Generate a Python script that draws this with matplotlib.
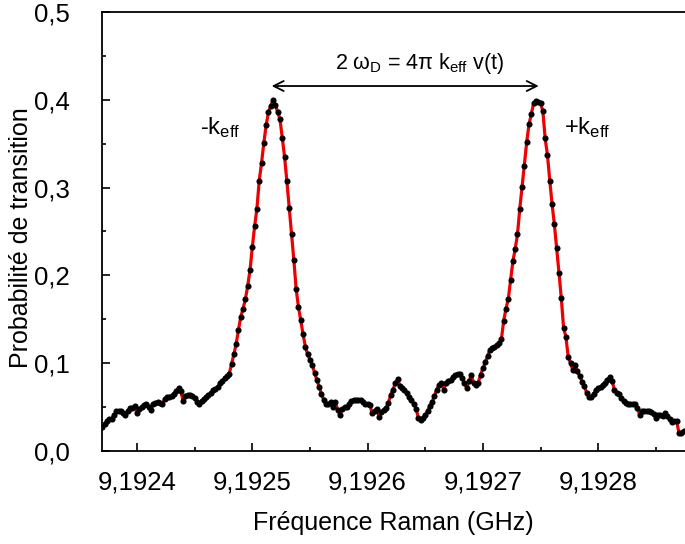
import matplotlib
matplotlib.use("Agg")
import matplotlib.pyplot as plt
from matplotlib.ticker import MultipleLocator, FuncFormatter
import numpy as np

# scan grid (GHz)
freq_start = 9.19237
freq_step = 2e-6

# measured transition probability, one value per scan step
prob = [
    0.027, 0.031, 0.034, 0.036, 0.037, 0.041, 0.045, 0.046, 0.046, 0.043,
    0.041, 0.046, 0.049, 0.049, 0.051, 0.043, 0.048, 0.050, 0.052, 0.054,
    0.050, 0.047, 0.053, 0.055, 0.056, 0.055, 0.054, 0.059, 0.061, 0.062,
    0.063, 0.065, 0.068, 0.072, 0.068, 0.057, 0.063, 0.064, 0.064, 0.063,
    0.060, 0.056, 0.053, 0.057, 0.059, 0.061, 0.064, 0.066, 0.069, 0.071,
    0.073, 0.077, 0.080, 0.083, 0.085, 0.088, 0.099, 0.110, 0.122, 0.138,
    0.153, 0.162, 0.173, 0.188, 0.206, 0.232, 0.256, 0.276, 0.308, 0.328,
    0.351, 0.371, 0.386, 0.393, 0.400, 0.394, 0.386, 0.378, 0.357, 0.335,
    0.307, 0.277, 0.247, 0.218, 0.185, 0.164, 0.149, 0.133, 0.119, 0.110,
    0.104, 0.098, 0.089, 0.081, 0.073, 0.065, 0.058, 0.053, 0.054, 0.056,
    0.050, 0.056, 0.047, 0.041, 0.048, 0.050, 0.050, 0.054, 0.057, 0.058,
    0.058, 0.058, 0.058, 0.056, 0.054, 0.053, 0.052, 0.043, 0.046, 0.048,
    0.039, 0.044, 0.047, 0.049, 0.055, 0.064, 0.070, 0.077, 0.082, 0.074,
    0.072, 0.070, 0.066, 0.062, 0.058, 0.054, 0.048, 0.038, 0.035, 0.038,
    0.041, 0.046, 0.051, 0.056, 0.063, 0.070, 0.075, 0.078, 0.070, 0.077,
    0.080, 0.081, 0.084, 0.087, 0.088, 0.088, 0.083, 0.077, 0.072, 0.080,
    0.086, 0.077, 0.075, 0.078, 0.087, 0.094, 0.101, 0.108, 0.115, 0.117,
    0.118, 0.121, 0.123, 0.127, 0.148, 0.162, 0.173, 0.195, 0.216, 0.230,
    0.247, 0.276, 0.301, 0.325, 0.352, 0.372, 0.384, 0.396, 0.399, 0.398,
    0.396, 0.387, 0.356, 0.337, 0.308, 0.281, 0.258, 0.231, 0.203, 0.174,
    0.140, 0.130, 0.107, 0.100, 0.092, 0.098, 0.091, 0.085, 0.079, 0.074,
    0.066, 0.062, 0.061, 0.065, 0.069, 0.072, 0.073, 0.075, 0.078, 0.081,
    0.084, 0.080, 0.070, 0.066, 0.065, 0.060, 0.057, 0.055, 0.053, 0.053,
    0.054, 0.054, 0.049, 0.041, 0.046, 0.046, 0.045, 0.045, 0.044, 0.042,
    0.038, 0.041, 0.041, 0.040, 0.043, 0.040, 0.036, 0.033, 0.034, 0.034,
    0.021, 0.021, 0.023,
]

# peak centres used for the arrow (GHz) and its height
peak_minus = 9.1925168
peak_plus = 9.1927484
arrow_y = 0.4157


def main():
    plt.rcParams['font.family'] = ['Liberation Sans', 'DejaVu Sans']
    plt.rcParams['mathtext.fontset'] = 'custom'
    plt.rcParams['mathtext.rm'] = 'Liberation Sans'
    plt.rcParams['mathtext.it'] = 'Liberation Sans'

    freq = freq_start + freq_step * np.arange(len(prob))

    fig = plt.figure(figsize=(6.85, 5.44), dpi=100)
    ax = fig.add_axes([101.7 / 685, 1 - 451 / 544, (685 - 101.7) / 685, (451 - 12) / 544])

    ax.plot(freq, prob, color='#ee0000', lw=2.3, zorder=2)
    ax.plot(freq, prob, 'o', color='black', ms=4.4, mew=0, zorder=3)

    ax.set_xlim(9.19236938, 9.19287528)
    ax.set_ylim(0, 0.5)

    ax.xaxis.set_major_locator(MultipleLocator(1e-4))
    ax.xaxis.set_minor_locator(MultipleLocator(5e-5))
    ax.yaxis.set_major_locator(MultipleLocator(0.1))
    ax.yaxis.set_minor_locator(MultipleLocator(0.05))
    ax.xaxis.set_major_formatter(FuncFormatter(lambda v, p: f"{v:.4f}".replace('.', ',')))
    ax.yaxis.set_major_formatter(FuncFormatter(lambda v, p: f"{v:.1f}".replace('.', ',')))

    ax.tick_params(which='both', direction='in', width=1.2, labelsize=18.5,
                   top=False, right=False)
    ax.tick_params(which='major', length=6)
    ax.tick_params(which='minor', length=3)
    ax.tick_params(axis='x', which='major', pad=14)
    ax.tick_params(axis='y', which='major', pad=23)
    for s in ['left', 'bottom', 'top']:
        ax.spines[s].set_linewidth(1.3)
    ax.spines['right'].set_visible(False)

    ax.set_xlabel("Fréquence Raman (GHz)", fontsize=18, labelpad=12)
    ax.set_ylabel("Probabilité de transition", fontsize=18)
    ax.yaxis.set_label_coords(-0.117, 0.485)

    ax.annotate("", xy=(peak_minus, arrow_y), xytext=(peak_plus, arrow_y),
                arrowprops=dict(arrowstyle='<->', lw=1.3, color='black',
                                mutation_scale=18, shrinkA=0, shrinkB=0))
    ax.text(9.1926454, 0.427,
            r"2 $\omega_{D}$ = 4$\pi$ k$_{eff}$ v(t)", fontsize=15.5,
            ha='center', va='bottom')
    ax.text(9.1924546, 0.368, r"-k$_{eff}$", fontsize=17, ha='left', va='center')
    ax.text(9.1927700, 0.368, r"+k$_{eff}$", fontsize=17, ha='left', va='center')

    fig.savefig("out.png", dpi=100)


if __name__ == "__main__":
    main()
